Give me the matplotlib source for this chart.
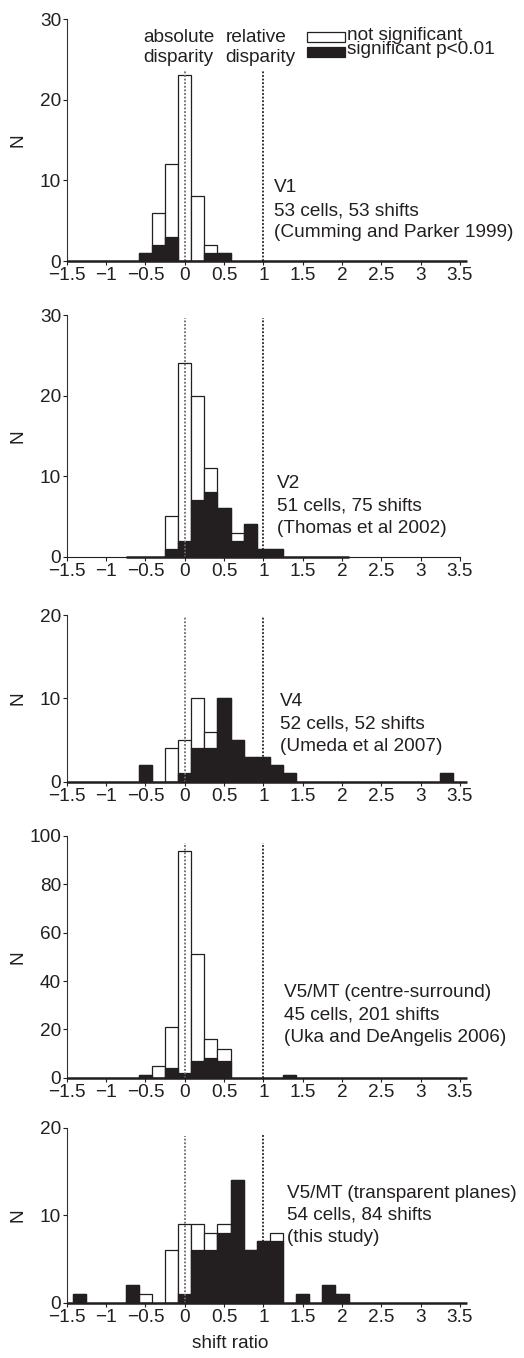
import numpy as np
import matplotlib
matplotlib.use('Agg')
import matplotlib.pyplot as plt
from matplotlib.patches import Rectangle

plt.rcParams['font.family'] = ['Liberation Sans', 'DejaVu Sans']

# ---------------- data ----------------
BIN_W = 1 / 6
xticks = [-1.5, -1, -0.5, 0, 0.5, 1, 1.5, 2, 2.5, 3, 3.5]
xticklabels = ['\u22121.5', '\u22121', '\u22120.5', '0', '0.5', '1', '1.5', '2', '2.5', '3', '3.5']

# bin centres (multiples of 1/6), total counts and significant counts
v1_centers = [-3/6, -2/6, -1/6, 0, 1/6, 2/6, 3/6]
v1_total = [1, 6, 12, 23, 8, 2, 1]
v1_sig = [1, 2, 3, 0, 0, 1, 1]

v2_centers = [-1/6, 0, 1/6, 2/6, 3/6, 4/6, 5/6, 6/6, 7/6]
v2_total = [5, 24, 20, 11, 6, 3, 4, 1, 1]
v2_sig = [1, 2, 7, 8, 6, 2, 4, 1, 1]

v4_centers = [-3/6, -1/6, 0, 1/6, 2/6, 3/6, 4/6, 5/6, 6/6, 7/6, 8/6, 20/6]
v4_total = [2, 4, 5, 10, 6, 10, 5, 3, 3, 2, 1, 1]
v4_sig = [2, 0, 1, 4, 4, 10, 5, 3, 3, 2, 1, 1]

mtcs_centers = [-3/6, -2/6, -1/6, 0, 1/6, 2/6, 3/6, 8/6]
mtcs_total = [1, 5, 21, 94, 51, 16, 12, 1]
mtcs_sig = [1, 0, 4, 2, 7, 8, 7, 1]

mttp_centers = [-8/6, -4/6, -3/6, -1/6, 0, 1/6, 2/6, 3/6, 4/6, 5/6, 6/6, 7/6, 9/6, 11/6, 12/6]
mttp_total = [1, 2, 1, 6, 9, 9, 8, 9, 14, 6, 7, 8, 1, 2, 1]
mttp_sig = [1, 2, 0, 0, 1, 6, 6, 8, 14, 6, 7, 7, 1, 2, 1]

panel_labels = [
    ['V1', '53 cells, 53 shifts', '(Cumming and Parker 1999)'],
    ['V2', '51 cells, 75 shifts', '(Thomas et al 2002)'],
    ['V4', '52 cells, 52 shifts', '(Umeda et al 2007)'],
    ['V5/MT (centre-surround)', '45 cells, 201 shifts', '(Uka and DeAngelis 2006)'],
    ['V5/MT (transparent planes)', '54 cells, 84 shifts', '(this study)'],
]
yticks_list = [[0, 10, 20, 30], [0, 10, 20, 30], [0, 10, 20], [0, 20, 40, 60, 80, 100], [0, 10, 20]]
ymax_list = [30, 30, 20, 100, 20]
hist_ranges = [(-1.5, 3.583), (-0.75, 2.083), (-1.5, 3.583), (-1.5, 3.583), (-1.5, 3.583)]
ref_line_tops = [(23.5, 23.5), (29.6, 29.6), (19.8, 19.8), (97.2, 97.2), (19.0, 19.2)]

legend_labels = ['not significant', 'significant p<0.01']
ref_labels = [('absolute', 'disparity'), ('relative', 'disparity')]
ylabel = 'N'
xlabel = 'shift ratio'

panels = [
    (v1_centers, v1_total, v1_sig),
    (v2_centers, v2_total, v2_sig),
    (v4_centers, v4_total, v4_sig),
    (mtcs_centers, mtcs_total, mtcs_sig),
    (mttp_centers, mttp_total, mttp_sig),
]

# ---------------- layout (pixels) ----------------
W, H = 524, 1358
INK = '#231f20'
FS = 13.7
AX_L, AX_R = 66.7, 460.0
panel_tb = [(19.0, 261.0), (315.0, 556.7), (615.0, 781.7), (836.0, 1077.7), (1127.7, 1302.7)]
text_x = [273.5, 277.0, 279.5, 284.5, 287.0]
text_base = [(192.5, 215.0, 237.0), (487.5, 510.5, 533.0), (706.0, 728.5, 751.0),
             (997.0, 1019.5, 1042.0), (1197.5, 1220.0, 1242.0)]


def fx(x):
    return x / W


def fy(y):
    return 1 - y / H


fig = plt.figure(figsize=(W / 100, H / 100), dpi=100)

for i, ((centers, total, sig), (top, bot)) in enumerate(zip(panels, panel_tb)):
    ax = fig.add_axes([fx(AX_L), fy(bot), (AX_R - AX_L) / W, (bot - top) / H])
    ax.bar(centers, total, width=BIN_W, color='white', edgecolor=INK, linewidth=0.9, zorder=2)
    ax.bar(centers, sig, width=BIN_W, color=INK, edgecolor=INK, linewidth=0.9, zorder=3)
    t0, t1 = ref_line_tops[i]
    ax.plot([0, 0], [0, t0], color='#6a6a6a', ls=(0, (1, 1)), lw=1.3, zorder=4)
    ax.plot([1, 1], [0, t1], color=INK, ls=(0, (1, 1)), lw=1.3, zorder=4)
    lo, hi = hist_ranges[i]
    ax.plot([lo, hi], [0, 0], color=INK, lw=1.8, solid_capstyle='butt', clip_on=False, zorder=5)

    ax.set_xlim(-1.5, 3.5)
    ax.set_ylim(0, ymax_list[i])
    ax.set_xticks(xticks)
    ax.set_xticklabels(xticklabels)
    ax.set_yticks(yticks_list[i])
    for s in ['top', 'right']:
        ax.spines[s].set_visible(False)
    ax.spines['left'].set_linewidth(0.8)
    ax.spines['left'].set_color('#333333')
    ax.spines['bottom'].set_linewidth(0.8)
    ax.spines['bottom'].set_color(INK)
    ax.tick_params(axis='both', direction='out', length=3, width=0.8, colors=INK,
                   labelsize=FS)
    ax.tick_params(axis='x', pad=1.5)
    ax.tick_params(axis='y', pad=1.0)
    ax.set_facecolor('none')

    # y label
    fig.text(fx(18.5), fy((top + bot) / 2), ylabel, rotation=90, ha='center', va='center',
             fontsize=FS, color=INK)
    # panel annotations
    for line, yb in zip(panel_labels[i], text_base[i]):
        fig.text(fx(text_x[i]), fy(yb), line, ha='left', va='baseline', fontsize=FS, color=INK)

# reference line labels
for (l1, l2), x in zip(ref_labels, [143.3, 225.5]):
    fig.text(fx(x), fy(41.7), l1, ha='left', va='baseline', fontsize=FS, color=INK)
    fig.text(fx(x), fy(62.5), l2, ha='left', va='baseline', fontsize=FS, color=INK)

# legend
fig.add_artist(Rectangle((fx(306.5), fy(41.5)), (345 - 306.5) / W, 10 / H,
                         transform=fig.transFigure, facecolor='white', edgecolor=INK, lw=0.9))
fig.add_artist(Rectangle((fx(306.5), fy(57.0)), (345 - 306.5) / W, 10.5 / H,
                         transform=fig.transFigure, facecolor=INK, edgecolor=INK, lw=0.9))
fig.text(fx(347), fy(39.5), legend_labels[0], ha='left', va='baseline', fontsize=FS, color=INK)
fig.text(fx(347), fy(54.0), legend_labels[1], ha='left', va='baseline', fontsize=FS, color=INK)

# x label
fig.text(fx(230), fy(1348), xlabel, ha='center', va='baseline', fontsize=FS, color=INK)

fig.savefig('out.png', dpi=100, facecolor='white')
